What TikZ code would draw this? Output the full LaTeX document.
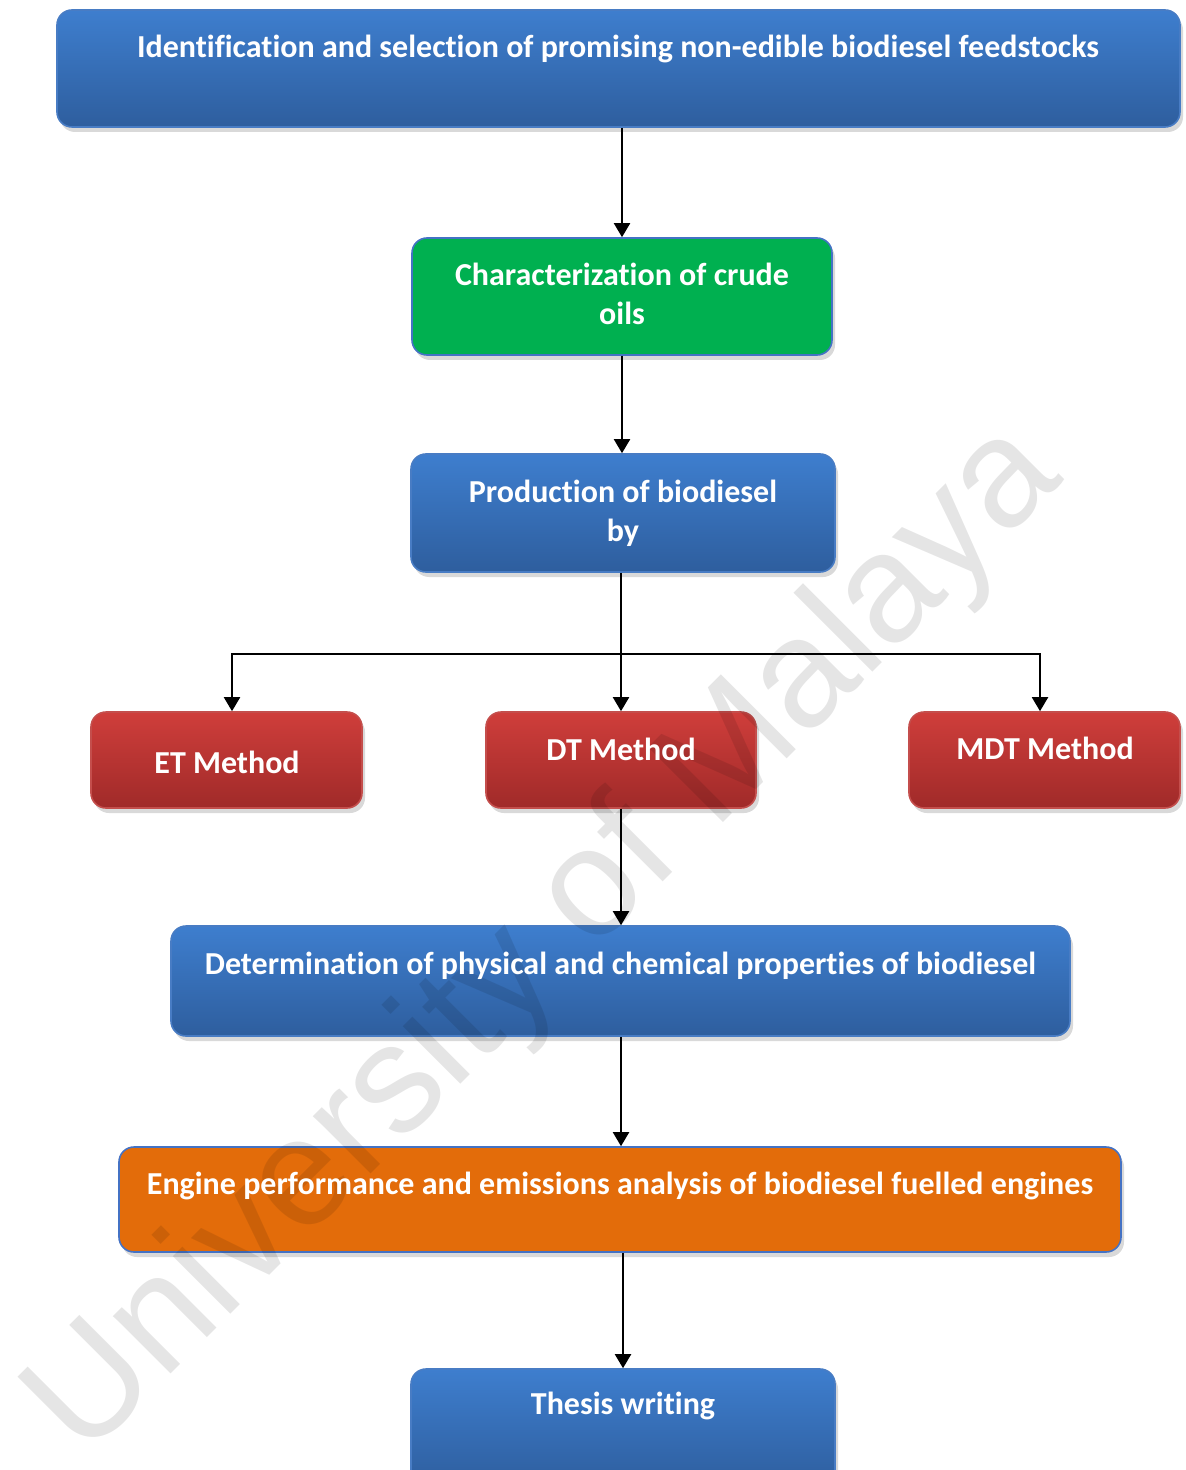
\documentclass[tikz,border=0pt]{standalone}
\usepackage{fontspec}
\setmainfont[Ligatures=NoCommon]{Carlito}
\newfontfamily\markfont{Liberation Sans}
\usepackage{tikz}
\usetikzlibrary{arrows.meta, shadows}
\definecolor{blueTop}{RGB}{62,126,206}
\definecolor{blueBot}{RGB}{46,94,158}
\definecolor{blueEdge}{RGB}{72,124,196}
\definecolor{greenFill}{RGB}{0,176,80}
\definecolor{redTop}{RGB}{207,62,59}
\definecolor{redBot}{RGB}{160,42,41}
\definecolor{redEdge}{RGB}{196,78,76}
\definecolor{orangeFill}{RGB}{227,108,10}
\definecolor{frameBlue}{RGB}{68,114,196}

\tikzset{
  box/.style={rounded corners=7.5pt, line width=0.8pt, inner sep=0pt,
    drop shadow={shadow xshift=1.5pt, shadow yshift=-2.5pt, opacity=0.3}},
  bluebox/.style={box, draw=blueEdge, top color=blueTop, bottom color=blueBot},
  redbox/.style={box, draw=redEdge, top color=redTop, bottom color=redBot},
  greenbox/.style={box, draw=frameBlue, fill=greenFill},
  orangebox/.style={box, draw=frameBlue, fill=orangeFill},
  boxtext/.style={text=white, font=\bfseries\fontsize{16}{19.5}\selectfont,
    align=center, inner sep=0pt, anchor=base},
  flow/.style={-{Triangle[width=8pt,length=7pt]}, line width=1pt},
}

\begin{document}
\begin{tikzpicture}[x=0.5pt, y=-0.5pt]
  \useasboundingbox (0,0) rectangle (1186,1470);

  % boxes
  \node[bluebox, minimum width=561.5pt, minimum height=58.5pt] (ident) at (618.5,68.5) {};
  \node[greenbox, minimum width=210pt, minimum height=58.5pt] (charac) at (622,296.5) {};
  \node[bluebox, minimum width=212pt, minimum height=59pt] (prod) at (623,513) {};
  \node[redbox, minimum width=135.5pt, minimum height=48pt] (et) at (226.5,760) {};
  \node[redbox, minimum width=135pt, minimum height=48pt] (dt) at (621,760) {};
  \node[redbox, minimum width=135.5pt, minimum height=48pt] (mdt) at (1044.5,760) {};
  \node[bluebox, minimum width=449.5pt, minimum height=55pt] (props) at (620.5,981) {};
  \node[orangebox, minimum width=501pt, minimum height=52.5pt] (engine) at (620,1199.5) {};
  \node[bluebox, minimum width=212pt, minimum height=59pt] (thesis) at (623,1428) {};

  % connectors
  \coordinate (split) at (621,654);
  \draw[flow] (charac.north |- ident.south) -- (charac.north);
  \draw[flow] (charac.south) -- (charac.south |- prod.north);
  \draw[flow] (dt.north |- prod.south) -- (dt.north);
  \draw[line width=1pt] ([xshift=2.75pt]et.north |- split) -- ([xshift=-2.25pt]mdt.north |- split);
  \draw[flow] (split) -| ([xshift=2.75pt]et.north);
  \draw[flow] (split) -| ([xshift=-2.25pt]mdt.north);
  \draw[flow] (dt.south) -- (dt.south |- props.north);
  \draw[flow] (dt.south |- props.south) -- (dt.south |- engine.north);
  \draw[flow] (thesis.north |- engine.south) -- (thesis.north);

  % watermark
  \node[rotate=45, anchor=base, text=black, opacity=0.1, inner sep=0pt,
    font=\markfont\fontsize{77}{84}\selectfont] (mark) at (575,970) {University of Malaya};

  % labels
  \node[boxtext] (identT) at (618,58) {Identification and selection of promising non-edible biodiesel feedstocks};
  \node[boxtext] (characT) at (622,325) {Characterization of crude\\oils};
  \node[boxtext] (prodT) at (623,541) {Production of biodiesel\\by};
  \node[boxtext] (etT) at (227,773) {ET Method};
  \node[boxtext] (dtT) at (621,760) {DT Method};
  \node[boxtext] (mdtT) at (1045,759) {MDT Method};
  \node[boxtext] (propsT) at (620.5,974) {Determination of physical and chemical properties of biodiesel};
  \node[boxtext] (engineT) at (620,1194) {Engine performance and emissions analysis of biodiesel fuelled engines};
  \node[boxtext] (thesisT) at (623,1414) {Thesis writing};
\end{tikzpicture}
\end{document}
